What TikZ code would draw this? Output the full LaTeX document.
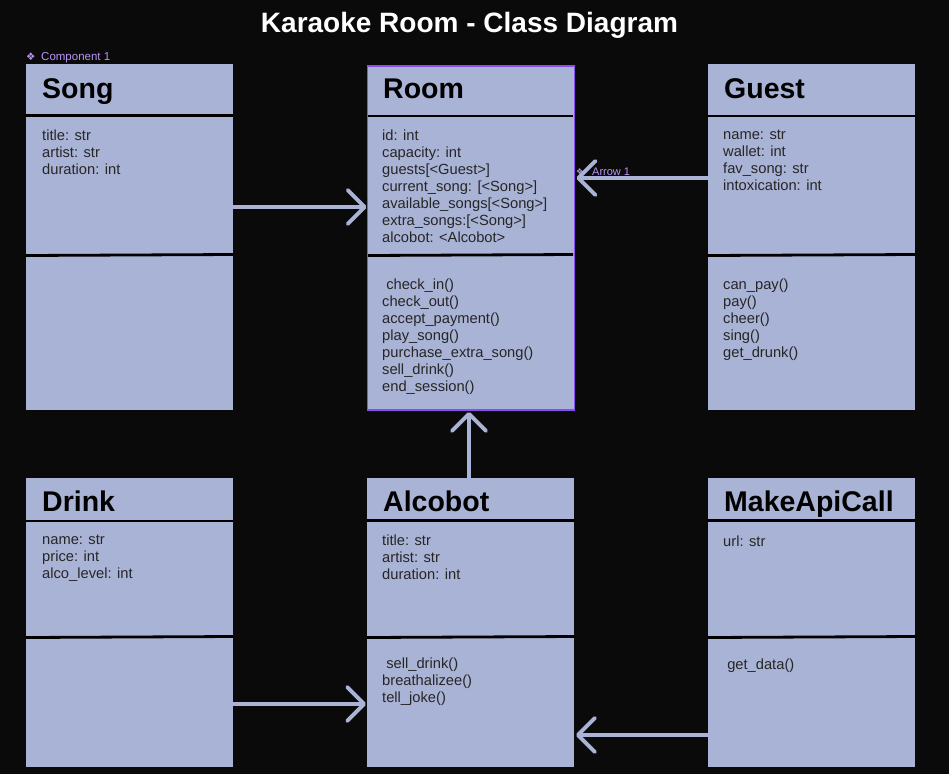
\documentclass[tikz,border=0pt]{standalone}
\usepackage{fontspec}
\setmainfont{Liberation Sans}
\newfontfamily\symfont{DejaVu Sans}
\usetikzlibrary{arrows.meta,calc}
\definecolor{bgc}{HTML}{0A0A0A}
\definecolor{boxc}{HTML}{A9B3D5}
\definecolor{arrc}{HTML}{A9B3D5}
\definecolor{purp}{HTML}{8A4DF0}
\definecolor{labc}{HTML}{B794F4}
\begin{document}
\begin{tikzpicture}[x=1pt,y=-1pt,
  classbox/.style={fill=boxc, draw=none, minimum width=207pt, anchor=north west, inner sep=0pt, outer sep=0pt},
  roombox/.style={classbox, draw=purp, line width=1.6pt},
  divider/.style={draw=black, line width=2.8pt},
  headtext/.style={anchor=base west, inner sep=0pt, font=\bfseries\fontsize{28.5}{30}\selectfont, text=black},
  bodytext/.style={anchor=north west, inner sep=0pt, align=left, font=\fontsize{14.7}{17}\selectfont, text=black!85, execute at begin node=\strut},
  conn/.style={draw=arrc, line width=3.8pt, line cap=round, -{Straight Barb[length=17pt,width=34pt,round]}},
  smalllab/.style={inner sep=0pt, anchor=base west, text=labc, font=\fontsize{11.5}{13}\selectfont}
]
\fill[bgc] (0,0) rectangle (949,774);
\useasboundingbox (0,0) rectangle (949,774);

\node[anchor=base, inner sep=0pt, text=white, font=\bfseries\fontsize{28}{30}\selectfont] (title) at (469.5,32) {Karaoke Room - Class Diagram};
\node[smalllab, font=\fontsize{10.5}{12}\selectfont] (compicon) at (26,60) {\symfont ❖};
\node[smalllab] (complab) at (41,60) {Component 1};

% boxes
\node[classbox, minimum height=346pt] (song) at (26,64) {};
\node[roombox, minimum height=344pt] (room) at (367.5,66) {};
\node[classbox, minimum height=346pt] (guest) at (708,64) {};
\node[classbox, minimum height=289pt] (drink) at (26,478) {};
\node[classbox, minimum height=289pt] (alcobot) at (367,478) {};
\node[classbox, minimum height=289pt] (api) at (708,478) {};

% dividers
\draw[divider] (26,115.5) -- (233,115.5);
\draw[divider] (26,255.5) -- (233,254.5);
\draw[divider] (368,116) -- (573,116);
\draw[divider] (368,255.5) -- (573,254.5);
\draw[divider] (708,116) -- (915,116);
\draw[divider] (708,255.5) -- (915,254.5);
\draw[divider] (26,521) -- (233,521);
\draw[divider] (26,637.5) -- (233,636.5);
\draw[divider] (367,520.5) -- (574,520.5);
\draw[divider] (367,637.5) -- (574,636.5);
\draw[divider] (708,520.5) -- (915,520.5);
\draw[divider] (708,637.5) -- (915,636.5);

% headings
\node[headtext] (songT) at (42,98) {Song};
\node[headtext] (roomT) at (383,98) {Room};
\node[headtext] (guestT) at (724,98) {Guest};
\node[headtext] (drinkT) at (42,511) {Drink};
\node[headtext] (alcoT) at (383,511) {Alcobot};
\node[headtext] (apiT) at (724,511) {MakeApiCall};

% attributes
\node[bodytext] (songA) at (42,129.5) {title: str\\artist: str\\duration: int};
\node[bodytext] (roomA) at (382,129.5) {id: int\\capacity: int\\guests[<Guest>]\\current\_song: [<Song>]\\available\_songs[<Song>]\\extra\_songs:[<Song>]\\alcobot: <Alcobot>};
\node[bodytext] (guestA) at (723,129.5) {name: str\\wallet: int\\fav\_song: str\\intoxication: int};
\node[bodytext] (drinkA) at (42,534.5) {name: str\\price: int\\alco\_level: int};
\node[bodytext] (alcoA) at (382,534.5) {title: str\\artist: str\\duration: int};
\node[bodytext] (apiA) at (723,534.5) {url: str};

% methods
\node[bodytext] (roomM) at (382,278.5) {\ check\_in()\\check\_out()\\accept\_payment()\\play\_song()\\purchase\_extra\_song()\\sell\_drink()\\end\_session()};
\node[bodytext] (guestM) at (723,278.5) {can\_pay()\\pay()\\cheer()\\sing()\\get\_drunk()};
\node[bodytext] (alcoM) at (382,657.5) {\ sell\_drink()\\breathalizee()\\tell\_joke()};
\node[bodytext] (apiM) at (723,657.5) {\ get\_data()};

% connectors
\draw[conn] ($(song.north east)+(0,143)$) -- ($(room.north west)+(-1,141)$);
\draw[conn] ($(guest.north west)+(0,114)$) -- ($(room.north east)+(2,112)$);
\draw[conn] ($(alcobot.north)+(-1.5,0)$) -- ($(room.south)+(-2,2)$);
\draw[conn] ($(drink.north east)+(0,226)$) -- ($(alcobot.north west)+(-1,226)$);
\draw[conn] ($(api.north west)+(0,257)$) -- ($(alcobot.north east)+(2,257)$);

\node[smalllab, font=\fontsize{8}{9}\selectfont] (arrowicon) at (576,174) {\symfont ❖};
\node[smalllab, font=\fontsize{11}{12}\selectfont] (arrowlab) at (592,175) {Arrow 1};
\end{tikzpicture}
\end{document}
